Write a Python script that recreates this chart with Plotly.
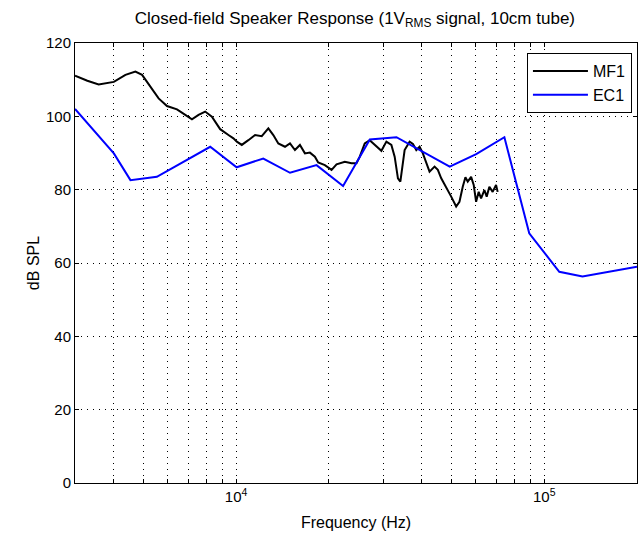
import plotly.graph_objects as go

# MF1 measured response
mf1_freq = [3000, 3290, 3580, 4010, 4373, 4711, 4952, 5268, 5604, 5966, 6428, 6839, 7188,
            7551, 7935, 8344, 8876, 9443, 9800, 10053, 10433, 10958, 11522, 12112, 12722,
            13205, 13707, 14409, 14957, 15522, 16111, 16723, 17358, 18017, 18463, 19410,
            20405, 21180, 22535, 23683, 24581, 25195, 26150, 27142, 28530, 29613, 30738,
            31904, 32700, 33511, 34119, 34633, 35227, 36566, 37476, 38436, 39394, 40370,
            41404, 42436, 44055, 45153, 46309, 48067, 49891, 51775, 53065, 54388, 55488,
            56454, 57900, 59032, 60102, 61276, 62374, 63930, 65043, 66360, 68015, 69760, 70600]
mf1_db = [111.1, 109.7, 108.7, 109.4, 111.3, 112.2, 111.3, 108.1, 104.9, 102.8, 101.9, 100.4, 99.2,
          100.4, 101.3, 99.9, 96.5, 94.9, 94.0, 93.1, 92.2, 93.5, 94.9, 94.6, 96.7,
          94.9, 92.6, 91.7, 92.6, 90.8, 92.2, 89.9, 90.1, 89.0, 87.4, 86.7,
          85.4, 86.9, 87.6, 87.2, 87.2, 89.0, 92.6, 93.5, 91.7, 90.6, 93.1,
          92.2, 89.0, 83.1, 82.2, 86.3, 90.8, 93.1, 92.5, 90.8, 91.7, 89.9,
          87.6, 84.9, 86.3, 85.4, 83.1, 80.8, 78.1, 75.4, 76.7, 80.8, 83.4,
          82.2, 83.5, 81.3, 76.7, 79.4, 77.6, 79.9, 78.1, 80.8, 79.4, 81.3, 79.4]

# EC1 measured response
ec1_freq = [3000, 4010, 4540, 5530, 8240, 10040, 12250, 14960, 18240, 22240, 27160, 33140,
            49340, 60140, 74240, 89400, 111900, 133100, 200000]
ec1_db = [102.0, 89.9, 82.6, 83.5, 91.7, 86.1, 88.5, 84.6, 86.7, 81.0, 93.7, 94.3,
          86.3, 89.7, 94.3, 68.1, 57.6, 56.3, 59.0]

x_grid = [3000, 4000, 5000, 6000, 7000, 8000, 9000, 10000, 20000, 30000, 40000, 50000,
          60000, 70000, 80000, 90000, 100000, 200000]
x_major = {10000: "10<sup>4</sup>", 100000: "10<sup>5</sup>"}
x_labels = [x_major.get(v, "") for v in x_grid]
y_ticks = [0, 20, 40, 60, 80, 100, 120]

font = "Liberation Sans, Arial, sans-serif"

fig = go.Figure()
fig.add_trace(go.Scatter(x=mf1_freq, y=mf1_db, mode="lines", name="MF1",
                         line=dict(color="black", width=2)))
fig.add_trace(go.Scatter(x=ec1_freq, y=ec1_db, mode="lines", name="EC1",
                         line=dict(color="#0000ff", width=2)))

axis_common = dict(showline=True, linecolor="black", linewidth=1, mirror="ticks",
                   ticks="inside", ticklen=4, tickcolor="black",
                   showgrid=True, gridcolor="black", gridwidth=1, griddash="1px,5px",
                   zeroline=False, automargin=False,
                   tickfont=dict(size=15, color="black", family=font))

fig.update_xaxes(type="log", range=[3.4771, 5.30103], tickvals=x_grid, ticktext=x_labels,
                 title=dict(text="Frequency (Hz)", font=dict(size=16, color="black", family=font),
                            standoff=12),
                 **axis_common)
fig.update_yaxes(range=[0, 120], tickvals=y_ticks,
                 title=dict(text="dB SPL", font=dict(size=16, color="black", family=font),
                            standoff=2),
                 **axis_common)

fig.update_layout(
    width=644, height=539,
    margin=dict(l=75, r=7, t=43, b=56),
    paper_bgcolor="white", plot_bgcolor="white",
    font=dict(family=font, size=15, color="black"),
    title=dict(text="Closed-field Speaker Response (1V<sub>RMS</sub> signal, 10cm tube)",
               x=0.551, xanchor="center", y=0.967, yanchor="middle",
               font=dict(size=17, color="black", family=font)),
    legend=dict(x=0.991, xanchor="right", y=0.977, yanchor="top",
                bgcolor="white", bordercolor="black", borderwidth=1,
                itemwidth=55,
                font=dict(size=16, color="black", family=font)),
    showlegend=True,
)

fig.write_html("out.html", config={"displayModeBar": False},
               post_script="document.body.style.margin='0';")
